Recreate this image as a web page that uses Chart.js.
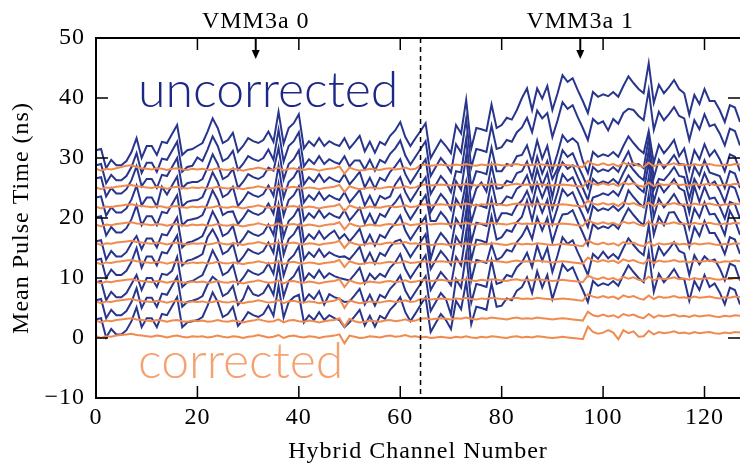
<!DOCTYPE html>
<html lang="en">
<head>
<meta charset="UTF-8">
<title>Mean Pulse Time per Hybrid Channel</title>
<script src="https://cdn.jsdelivr.net/npm/chart.js@4"></script>
<style>
  html, body { margin: 0; padding: 0; background: #fff; }
  #wrap { width: 740px; height: 469px; }
</style>
</head>
<body>
<div id="wrap"><canvas id="pulseChart" width="740" height="469"></canvas></div>
<script>
// hybrid channels 0..127, two VMM3a chips with 64 channels each
const channels = Array.from({ length: 128 }, (_, i) => i);
const xTicks = [0, 20, 40, 60, 80, 100, 120];
const yTicks = [-10, 0, 10, 20, 30, 40, 50];
const chipBoundary = 64;
const chipCentres = [31.5, 95.5];
const chipNames = ['VMM3a 0', 'VMM3a 1'];

// mean pulse time (ns) per channel, one array per delay setting - raw
const uncorr1 = [3.1,3.3,0.1,1.5,0.6,0.6,1.3,2.8,5.1,1.8, 3.3,3.3,1.8,4.0,3.8,5.3,6.8,1.8,2.6,2.8, 3.0,3.5,5.4,7.6,6.0,3.5,4.0,5.2,2.0,3.0, 4.3,3.8,3.5,4.0,5.4,3.7,8.7,3.4,6.0,6.8, 7.2,2.6,3.8,3.0,4.3,3.0,3.8,3.3,3.0,1.8, 2.6,3.6,4.7,2.1,3.7,1.9,3.7,3.2,4.7,5.6, 6.8,4.3,2.8,4.1,5.5,6.8,1.0,2.5,4.0,3.0, 1.5,6.2,4.8,9.4,2.3,5.2,5.0,4.7,9.1,5.2, 5.4,6.6,6.3,7.9,8.5,10.1,7.5,11.1,8.4,10.5, 6.5,9.2,12.3,11.2,11.8,9.8,8.0,6.0,9.5,8.7, 9.1,8.8,9.5,8.7,10.5,12.1,11.0,10.0,9.3,14.3, 7.7,10.7,9.3,10.3,11.5,10.0,9.8,6.2,9.5,8.0, 10.5,8.5,9.1,7.6,5.6,8.4,8.0,5.6];
const uncorr2 = [6.3,6.5,3.3,4.7,3.8,3.8,4.5,6.0,8.3,5.0, 6.7,6.7,5.2,7.4,7.2,8.7,10.2,5.2,6.0,6.2, 6.5,7.0,8.9,10.2,9.5,7.0,7.5,8.7,5.5,6.5, 8.6,7.3,7.0,7.5,8.9,7.2,12.2,6.9,9.5,10.3, 11.8,6.1,7.3,6.5,7.8,5.6,7.3,6.8,6.5,6.0, 6.1,7.1,8.2,5.6,7.2,5.4,7.2,6.7,8.2,9.1, 10.4,7.9,6.4,7.7,9.0,10.3,4.5,6.0,7.5,6.5, 3.9,9.8,8.4,14.0,5.9,9.0,8.8,8.5,12.9,9.0, 9.3,10.5,10.2,11.8,12.6,14.2,11.8,15.4,12.9,15.0, 11.0,13.7,16.8,15.7,16.3,14.3,12.5,10.5,14.0,13.2, 14.4,13.3,14.0,13.2,15.0,16.6,15.5,14.5,13.8,18.8, 12.2,15.2,13.8,14.8,16.0,14.5,14.1,10.5,13.8,12.3, 13.6,12.8,13.1,11.6,9.6,12.4,12.0,9.6];
const uncorr3 = [9.3,9.5,6.3,7.7,6.8,6.8,7.5,9.0,10.5,8.0, 10.0,10.0,8.5,10.7,10.5,11.2,13.5,8.5,9.3,9.5, 10.0,10.5,12.4,14.6,13.0,10.5,11.0,12.2,9.0,10.0, 11.3,10.8,10.5,11.0,12.4,10.7,15.7,10.4,13.0,13.8, 15.3,9.6,10.8,10.0,11.3,10.0,10.8,10.3,10.0,9.8, 9.6,10.6,11.7,9.1,10.7,9.8,10.7,10.2,11.7,12.6, 14.0,11.5,10.0,11.3,12.5,13.8,8.0,9.5,11.0,10.0, 8.8,13.5,12.1,17.7,9.6,13.0,12.8,12.5,15.6,13.0, 13.5,14.7,14.4,16.0,17.0,18.6,16.5,20.1,17.9,20.0, 16.0,18.7,20.6,20.7,21.3,19.3,17.5,15.5,19.0,18.2, 18.6,18.3,19.0,18.2,20.0,21.6,20.5,19.5,18.8,23.8, 17.2,20.2,18.8,20.9,21.0,19.5,18.8,15.2,18.5,17.0, 19.5,17.5,17.5,16.0,14.0,16.8,16.4,14.0];
const uncorr4 = [13.0,13.2,10.0,11.4,10.5,10.5,11.2,12.7,15.0,11.7, 13.6,13.6,12.1,14.3,14.1,15.6,17.1,12.1,12.9,13.1, 13.5,14.0,16.8,18.1,16.5,14.0,14.5,15.7,12.5,13.5, 14.8,14.3,14.0,14.5,15.9,14.2,20.5,13.9,16.5,17.3, 18.8,13.1,14.3,13.5,14.8,13.5,14.3,13.8,13.5,13.6, 13.1,14.1,15.2,12.6,14.2,12.4,14.2,13.7,15.2,16.1, 16.4,15.0,13.5,14.8,16.0,17.3,11.5,13.0,14.5,13.5, 12.2,16.9,15.5,21.1,13.0,16.4,16.2,15.9,20.3,16.4, 16.8,18.0,17.7,19.3,20.2,22.9,19.6,23.2,20.9,23.0, 19.0,21.7,24.8,23.7,24.3,22.3,20.5,18.5,22.0,21.2, 21.6,21.3,22.0,21.2,22.0,24.6,23.5,22.5,21.8,26.8, 20.2,23.2,21.8,22.8,24.0,22.5,21.9,18.3,21.6,20.1, 22.6,20.6,20.7,19.2,17.2,21.2,19.6,17.2];
const uncorr5 = [16.1,16.3,13.1,14.5,13.6,13.6,14.3,15.8,17.0,14.8, 16.6,16.6,15.1,17.3,17.1,18.6,20.1,15.1,15.9,16.1, 16.5,17.0,18.9,21.1,19.5,17.0,17.5,18.7,15.5,16.5, 17.8,17.3,17.0,17.5,18.9,17.2,22.2,16.9,19.5,20.3, 21.8,16.1,17.3,16.5,17.8,16.5,17.3,17.9,16.5,17.3, 16.1,17.1,18.2,15.6,17.2,15.4,17.2,16.7,18.2,19.1, 20.4,17.9,16.4,17.7,19.0,20.3,13.2,16.0,17.5,16.5, 15.2,19.9,18.5,24.1,16.0,19.2,19.0,18.7,23.1,19.2, 20.8,20.8,20.5,22.1,22.9,24.5,22.2,25.8,23.4,25.5, 21.5,24.2,27.3,26.2,26.8,24.8,23.0,21.0,23.4,23.7, 24.1,23.8,24.5,23.7,25.5,27.1,26.0,25.0,24.3,29.3, 22.7,25.7,24.3,25.3,26.5,25.0,24.5,20.9,25.3,22.7, 25.2,23.2,23.4,21.9,19.9,22.7,22.3,19.9];
const uncorr6 = [20.1,20.3,17.1,18.5,17.6,17.6,18.3,19.8,22.1,18.8, 20.3,20.3,18.8,21.0,20.8,22.3,23.8,18.8,19.6,19.8, 20.0,20.5,22.4,24.6,23.0,20.5,21.0,21.1,19.0,20.0, 21.3,20.8,20.5,21.0,22.4,20.7,25.7,20.4,23.0,23.8, 25.3,19.6,20.8,20.0,21.3,20.0,20.8,20.3,20.0,21.3, 19.6,20.6,21.7,19.1,20.7,18.9,20.7,20.2,21.7,22.6, 23.8,21.3,19.8,21.1,22.5,23.8,19.5,19.5,21.0,20.0, 18.5,23.2,21.8,26.0,19.3,22.2,22.0,21.7,26.1,22.2, 22.4,23.6,23.3,24.9,25.5,27.1,24.5,28.1,25.4,27.5, 23.5,27.4,29.3,28.2,28.8,26.8,25.0,23.0,26.5,25.7, 26.1,25.8,26.5,25.7,27.5,29.1,28.0,27.0,26.3,31.3, 24.7,26.5,26.3,27.3,28.5,27.0,26.8,23.2,26.5,25.0, 27.5,25.5,26.1,24.6,22.6,25.4,25.0,22.6];
const uncorr7 = [23.4,23.6,20.4,21.8,20.9,20.9,21.6,23.1,25.4,22.1, 23.4,23.4,21.9,25.2,23.9,25.4,26.9,21.9,22.7,22.9, 23.0,23.5,25.4,27.6,26.0,23.5,24.0,25.2,22.0,23.0, 24.3,23.8,23.5,24.0,25.4,23.7,28.7,23.4,26.0,26.8, 28.3,22.6,23.8,23.0,24.3,23.0,23.8,23.3,23.0,24.3, 22.6,23.6,24.7,22.1,23.7,21.9,23.7,23.2,23.6,25.6, 26.8,24.3,22.8,24.1,25.5,26.8,21.0,22.5,24.0,23.0, 21.4,26.1,24.7,30.3,22.2,24.9,25.9,24.4,28.8,24.9, 25.0,26.2,25.9,27.5,27.8,29.4,26.6,30.2,27.4,29.5, 26.5,28.2,31.3,30.2,30.8,28.8,27.0,25.0,28.5,27.7, 28.1,27.8,28.5,27.7,29.5,31.1,28.8,29.0,28.3,33.3, 26.7,29.7,28.3,29.3,30.5,29.0,28.9,25.3,28.6,27.1, 29.6,27.6,27.3,27.0,25.0,27.8,27.4,25.0];
const uncorr8 = [26.6,26.8,23.6,25.0,24.1,24.1,24.8,26.3,28.6,25.3, 26.5,26.5,25.0,27.2,27.0,28.5,30.0,25.0,25.8,26.0, 26.0,26.5,28.4,30.6,29.0,26.5,27.0,28.2,25.0,26.0, 27.3,26.8,26.5,27.0,28.4,27.9,31.7,26.4,29.0,29.8, 31.3,25.6,26.8,26.0,27.3,26.0,26.8,26.3,26.0,27.3, 25.6,26.6,27.7,25.1,26.7,24.9,26.7,26.2,27.7,28.6, 29.8,27.3,25.8,27.1,28.5,29.8,24.0,25.5,27.0,26.0, 24.3,27.8,27.6,33.2,25.1,27.8,27.6,27.3,31.7,27.8, 27.8,29.0,28.7,30.3,30.5,32.1,29.3,32.9,29.9,32.0, 28.0,30.7,33.8,32.7,33.3,32.5,29.5,27.5,31.0,30.2, 30.6,30.3,31.0,30.2,32.0,33.6,32.5,31.5,30.8,34.5, 29.2,32.2,30.8,31.8,33.0,30.3,31.6,28.0,31.3,29.8, 32.3,30.3,31.3,29.8,27.8,30.6,30.2,27.8];
const uncorr9 = [28.8,29.0,25.8,27.2,26.3,26.3,27.0,28.5,30.8,27.5, 29.2,29.2,27.7,29.9,29.7,31.2,32.7,27.7,28.5,28.7, 30.1,29.5,31.4,33.6,32.0,29.5,30.0,31.2,28.0,29.0, 30.3,29.8,29.5,30.0,31.4,29.7,34.7,29.4,32.0,32.8, 34.3,28.6,29.8,29.0,30.3,29.0,29.8,29.3,29.0,30.3, 28.6,29.6,29.6,28.1,29.7,27.9,29.7,29.2,30.7,31.6, 32.9,30.4,28.9,30.2,31.5,32.8,27.0,28.5,30.0,29.0, 27.6,32.3,30.9,36.5,28.4,31.5,31.3,31.0,35.4,31.5, 31.8,33.0,32.7,34.3,35.1,36.7,34.3,37.9,36.6,37.5, 33.5,36.2,39.3,38.2,38.8,36.8,35.0,33.0,36.5,35.7, 36.1,34.6,36.5,35.7,37.5,38.2,38.0,37.0,36.3,41.3, 34.7,37.7,36.3,37.3,38.5,37.0,36.6,33.0,36.3,34.8, 37.3,35.3,35.6,34.1,32.1,34.9,34.5,32.1];
const uncorr10 = [31.3,31.5,28.3,29.7,28.8,28.8,29.5,31.0,33.3,30.0, 32.0,32.0,30.5,32.7,32.5,34.0,35.5,30.5,31.3,31.5, 32.0,32.5,34.4,36.6,35.0,32.5,33.0,34.2,31.0,32.0, 33.3,32.8,32.5,33.0,34.4,32.7,37.7,32.4,35.0,35.8, 37.3,31.6,32.8,32.0,33.3,32.0,32.8,32.3,32.0,33.3, 31.6,32.6,33.7,31.1,32.7,30.9,32.7,32.2,33.7,34.6, 36.0,33.5,32.0,33.3,34.5,35.8,30.0,31.5,33.0,32.0, 30.8,35.5,34.1,39.7,31.6,35.0,34.8,34.5,38.9,35.0, 35.5,36.7,36.4,38.0,40.0,41.6,38.0,41.6,39.9,42.0, 38.0,40.7,43.8,42.7,43.3,41.3,39.5,37.5,41.0,40.2, 40.6,40.3,41.0,40.2,42.0,43.6,42.5,41.5,40.8,45.8, 39.2,42.2,40.8,41.8,43.0,41.5,40.8,37.2,40.5,39.0, 41.5,39.5,39.5,38.0,36.0,38.8,38.4,36.0];

// same settings after the per-channel time correction
const corr1 = [0.3,0.0,0.3,0.2,0.4,0.5,0.6,0.7,0.5,0.4, 0.3,0.2,0.4,0.3,0.1,0.3,0.4,0.2,0.1,0.3, 0.2,0.3,0.1,0.2,0.4,0.2,0.1,0.3,0.2,0.0, 0.2,0.3,0.5,0.3,0.1,0.2,0.5,0.0,0.3,0.4, 0.2,0.1,0.3,0.2,0.0,0.2,0.3,0.4,0.6,-0.9, 0.4,0.2,0.0,0.1,0.3,0.2,0.1,0.3,0.4,0.2, 0.3,0.5,0.2,0.3,0.1,0.2,0.0,0.1,0.2,0.1, 0.0,0.2,0.1,0.3,0.1,0.0,0.2,0.1,0.3,0.2, 0.1,0.0,0.2,0.3,0.1,0.2,0.1,0.3,0.2,0.1, 0.0,0.1,0.2,0.1,0.0,-0.1,-0.2,1.9,1.0,0.7, 0.9,1.3,0.9,-0.2,1.3,0.8,1.1,0.2,0.3,1.2, 0.6,1.0,0.8,0.9,1.1,0.8,0.9,0.7,1.0,0.8, 0.9,1.0,0.8,0.7,0.9,0.8,1.0,0.9];
const corr2 = [2.9,2.6,2.9,2.8,3.0,3.1,3.2,3.3,3.1,3.0, 2.9,2.8,3.0,2.9,2.7,2.9,3.0,2.8,2.7,2.9, 2.8,2.9,2.7,2.8,3.0,2.8,2.7,2.9,2.8,2.6, 2.8,2.9,3.1,2.9,2.7,2.8,3.1,2.6,2.9,3.0, 2.8,2.7,2.9,2.8,2.6,2.8,2.9,3.0,3.3,1.9, 3.2,2.8,2.6,2.7,2.9,2.8,2.7,2.9,3.0,2.8, 2.9,3.1,2.8,2.9,3.2,3.3,3.1,3.2,3.3,3.2, 3.1,3.3,3.2,3.4,3.2,3.1,3.3,3.2,3.4,3.3, 3.2,3.1,3.3,3.4,3.2,3.3,3.2,3.4,3.3,3.2, 3.1,3.2,3.3,3.2,3.1,3.0,2.9,4.4,3.8,3.6, 3.9,3.6,3.8,3.4,4.0,3.7,3.9,3.5,3.3,4.0, 3.4,3.8,3.6,3.7,3.9,3.6,3.7,3.5,3.8,3.6, 3.7,3.8,3.6,3.5,3.7,3.6,3.8,3.7];
const corr3 = [6.1,5.8,6.1,6.0,6.2,6.3,6.4,6.5,6.3,6.2, 6.1,6.0,6.2,6.1,5.9,6.1,6.2,6.0,5.9,6.1, 6.0,6.1,5.9,6.0,6.2,6.0,5.9,6.1,6.0,5.8, 6.0,6.1,6.3,6.1,5.9,6.0,6.3,5.8,6.1,6.2, 6.0,5.9,6.1,6.0,5.8,6.0,6.1,6.2,6.6,5.0, 6.3,6.0,5.8,5.9,6.1,6.0,5.9,6.1,6.2,6.0, 6.1,6.3,6.0,6.1,6.5,6.6,6.4,6.5,6.6,6.5, 6.4,6.6,6.5,6.7,6.5,6.4,6.6,6.5,6.7,6.6, 6.5,6.4,6.6,6.7,6.5,6.6,6.5,6.7,6.6,6.5, 6.4,6.5,6.6,6.5,6.4,6.3,6.2,7.3,6.9,6.7, 7.0,6.7,6.9,6.5,7.1,6.8,7.0,6.6,6.4,7.1, 6.5,6.9,6.7,6.8,7.0,6.7,6.8,6.6,6.9,6.7, 6.8,6.9,6.7,6.6,6.8,6.7,6.9,6.8];
const corr4 = [9.4,9.1,9.4,9.3,9.5,9.6,9.7,9.8,9.6,9.5, 9.4,9.3,9.5,9.4,9.2,9.4,9.5,9.3,9.2,9.4, 9.3,9.4,9.2,9.3,9.5,9.3,9.2,9.4,9.3,9.1, 9.3,9.4,9.6,9.4,9.2,9.3,9.6,9.1,9.4,9.5, 9.3,9.2,9.4,9.3,9.1,9.3,9.4,9.5,9.8,8.5, 9.6,9.3,9.1,9.2,9.4,9.3,9.2,9.4,9.5,9.3, 9.4,9.6,9.3,9.4,9.6,9.7,9.5,9.6,9.7,9.6, 9.5,9.7,9.6,9.8,9.6,9.5,9.7,9.6,9.8,9.7, 9.6,9.5,9.7,9.8,9.6,9.7,9.6,9.8,9.7,9.6, 9.5,9.6,9.7,9.6,9.5,9.4,9.3,10.4,10.0,9.8, 10.1,9.8,10.0,9.6,10.2,9.9,10.1,9.7,9.5,10.2, 9.6,10.0,9.8,9.9,10.1,9.8,9.9,9.7,10.0,9.8, 9.9,10.0,9.8,9.7,9.9,9.8,10.0,9.9];
const corr5 = [12.6,12.3,12.6,12.5,12.7,12.8,12.9,13.0,12.8,12.7, 12.6,12.5,12.7,12.6,12.4,12.6,12.7,12.5,12.4,12.6, 12.5,12.6,12.4,12.5,12.7,12.5,12.4,12.6,12.5,12.3, 12.5,12.6,12.8,12.6,12.4,12.5,12.8,12.3,12.6,12.7, 12.5,12.4,12.6,12.5,12.3,12.5,12.6,12.7,13.0,11.8, 12.8,12.5,12.3,12.4,12.6,12.5,12.4,12.6,12.7,12.5, 12.6,12.8,12.5,12.6,12.7,12.8,12.6,12.7,12.8,12.7, 12.6,12.8,12.7,12.9,12.7,12.6,12.8,12.7,12.9,12.8, 12.7,12.6,12.8,12.9,12.7,12.8,12.7,12.9,12.8,12.7, 12.6,12.7,12.8,12.7,12.6,12.5,12.4,13.4,12.9,12.7, 13.0,12.7,12.9,12.5,13.1,12.8,13.0,12.6,12.4,13.1, 12.5,12.9,12.7,12.8,13.0,12.7,12.8,12.6,12.9,12.7, 12.8,12.9,12.7,12.6,12.8,12.7,12.9,12.8];
const corr6 = [15.8,15.5,15.8,15.7,15.9,16.0,16.1,16.2,16.0,15.9, 15.8,15.7,15.9,15.8,15.6,15.8,15.9,15.7,15.6,15.8, 15.7,15.8,15.6,15.7,15.9,15.7,15.6,15.8,15.7,15.5, 15.7,15.8,16.0,15.8,15.6,15.7,16.0,15.5,15.8,15.9, 15.7,15.6,15.8,15.7,15.5,15.7,15.8,15.9,16.2,15.0, 16.0,15.7,15.5,15.6,15.8,15.7,15.6,15.8,15.9,15.7, 15.8,16.0,15.7,15.8,15.6,15.7,15.5,15.6,15.7,15.6, 15.5,15.7,15.6,15.8,15.6,15.5,15.7,15.6,15.8,15.7, 15.6,15.5,15.7,15.8,15.6,15.7,15.6,15.8,15.7,15.6, 15.5,15.6,15.7,15.6,15.5,15.4,15.3,16.3,15.8,15.6, 15.9,15.6,15.8,15.4,16.0,15.7,15.9,15.5,15.3,16.0, 15.4,15.8,15.6,15.7,15.9,15.6,15.7,15.5,15.8,15.6, 15.7,15.8,15.6,15.5,15.7,15.6,15.8,15.7];
const corr7 = [18.9,18.6,18.9,18.8,19.0,19.1,19.2,19.3,19.1,19.0, 18.9,18.8,19.0,18.9,18.7,18.9,19.0,18.8,18.7,18.9, 18.8,18.9,18.7,18.8,19.0,18.8,18.7,18.9,18.8,18.6, 18.8,18.9,19.1,18.9,18.7,18.8,19.1,18.6,18.9,19.0, 18.8,18.7,18.9,18.8,18.6,18.8,18.9,19.0,19.3,18.1, 19.1,18.8,18.6,18.7,18.9,18.8,18.7,18.9,19.0,18.8, 18.9,19.1,18.8,18.9,19.0,19.1,18.9,19.0,19.1,19.0, 18.9,19.1,19.0,19.2,19.0,18.9,19.1,19.0,19.2,19.1, 19.0,18.9,19.1,19.2,19.0,19.1,19.0,19.2,19.1,19.0, 18.9,19.0,19.1,19.0,18.9,18.8,18.7,19.7,19.2,19.0, 19.3,19.0,19.2,18.8,19.4,19.1,19.3,18.9,18.7,19.4, 18.8,19.2,19.0,19.1,19.3,19.0,19.1,18.9,19.2,19.0, 19.1,19.2,19.0,18.9,19.1,19.0,19.2,19.1];
const corr8 = [21.9,21.6,21.9,21.8,22.0,22.1,22.2,22.3,22.1,22.0, 21.9,21.8,22.0,21.9,21.7,21.9,22.0,21.8,21.7,21.9, 21.8,21.9,21.7,21.8,22.0,21.8,21.7,21.9,21.8,21.6, 21.8,21.9,22.1,21.9,21.7,21.8,22.1,21.6,21.9,22.0, 21.8,21.7,21.9,21.8,21.6,21.8,21.9,22.0,22.3,21.1, 22.1,21.8,21.6,21.7,21.9,21.8,21.7,21.9,22.0,21.8, 21.9,22.1,21.8,21.9,22.2,22.3,22.1,22.2,22.3,22.2, 22.1,22.3,22.2,22.4,22.2,22.1,22.3,22.2,22.4,22.3, 22.2,22.1,22.3,22.4,22.2,22.3,22.2,22.4,22.3,22.2, 22.1,22.2,22.3,22.2,22.1,22.0,21.9,22.9,22.4,22.2, 22.5,22.2,22.4,22.0,22.6,22.3,22.5,22.1,21.9,22.6, 22.0,22.4,22.2,22.3,22.5,22.2,22.3,22.1,22.4,22.2, 22.3,22.4,22.2,22.1,22.3,22.2,22.4,22.3];
const corr9 = [25.1,24.8,25.1,25.0,25.2,25.3,25.4,25.5,25.3,25.2, 25.1,25.0,25.2,25.1,24.9,25.1,25.2,25.0,24.9,25.1, 25.0,25.1,24.9,25.0,25.2,25.0,24.9,25.1,25.0,24.8, 25.0,25.1,25.3,25.1,24.9,25.0,25.3,24.8,25.1,25.2, 25.0,24.9,25.1,25.0,24.8,25.0,25.1,25.2,25.5,24.3, 25.3,25.0,24.8,24.9,25.1,25.0,24.9,25.1,25.2,25.0, 25.1,25.3,25.0,25.1,25.5,25.6,25.4,25.5,25.6,25.5, 25.4,25.6,25.5,25.7,25.5,25.4,25.6,25.5,25.7,25.6, 25.5,25.4,25.6,25.7,25.5,25.6,25.5,25.7,25.6,25.5, 25.4,25.5,25.6,25.5,25.4,25.3,25.2,26.2,25.7,25.5, 25.8,25.5,25.7,25.3,25.9,25.6,25.8,25.4,25.2,25.9, 25.3,25.7,25.5,25.6,25.8,25.5,25.6,25.4,25.7,25.5, 25.6,25.7,25.5,25.4,25.6,25.5,25.7,25.6];
const corr10 = [28.2,27.9,28.2,28.1,28.3,28.5,28.7,28.8,28.5,28.3, 28.2,28.1,28.3,28.2,28.0,28.2,28.3,28.1,28.0,28.2, 28.1,28.2,28.0,28.1,28.3,28.1,28.0,28.2,28.1,27.9, 28.1,28.2,28.4,28.2,28.0,28.1,28.4,27.9,28.2,28.3, 28.1,28.0,28.2,28.1,27.9,28.1,28.2,28.3,28.6,27.4, 28.4,28.1,27.9,28.0,28.2,28.1,28.0,28.2,28.3,28.1, 28.2,28.4,28.1,28.2,28.8,28.9,28.7,28.8,28.9,28.8, 28.7,28.9,28.8,29.0,28.8,28.7,28.9,28.8,29.0,28.9, 28.8,28.7,28.9,29.0,28.8,28.9,28.8,29.0,28.9,28.8, 28.7,28.8,28.9,28.8,28.7,28.6,28.5,29.5,29.0,28.8, 29.1,28.8,29.0,28.6,29.2,28.9,29.1,28.7,28.5,29.2, 28.6,29.0,28.8,28.9,29.1,28.8,28.9,28.7,29.0,28.8, 28.9,29.0,28.8,28.7,28.9,28.8,29.0,28.9];

const uncorrected = [uncorr1, uncorr2, uncorr3, uncorr4, uncorr5, uncorr6, uncorr7, uncorr8, uncorr9, uncorr10];
const corrected = [corr1, corr2, corr3, corr4, corr5, corr6, corr7, corr8, corr9, corr10];

const BLUE = '#28358c';
const BLUE_TEXT = '#1c2787';
const ORANGE = '#f08a4e';
const ORANGE_TEXT = '#f5a170';
const SERIF = '"Liberation Serif", "DejaVu Serif", serif';
const SERIF_SIZE = 24;
const SPACING = '1px';

const toPoints = ys => ys.map((y, i) => ({ x: channels[i], y: y }));

// index 0 is painted last, so the corrected curves go first
const datasets = [];
corrected.forEach(ys => datasets.push({ data: toPoints(ys), borderColor: ORANGE, borderWidth: 2 }));
uncorrected.forEach(ys => datasets.push({ data: toPoints(ys), borderColor: BLUE, borderWidth: 2 }));

function seg(ctx, x1, y1, x2, y2) {
  ctx.beginPath();
  ctx.moveTo(x1, y1);
  ctx.lineTo(x2, y2);
  ctx.stroke();
}

// a little tracking on the serif text so it spreads like a book face
const tracking = {
  id: 'tracking',
  beforeUpdate(chart) { chart.ctx.letterSpacing = SPACING; },
  beforeDraw(chart) { chart.ctx.letterSpacing = SPACING; }
};

// box with inward ticks, chip separator, chip arrows and the two labels
const decorations = {
  id: 'decorations',
  afterDatasetsDraw(chart) {
    const { ctx, chartArea: a, scales: { x, y } } = chart;
    ctx.save();
    ctx.strokeStyle = '#000';
    ctx.fillStyle = '#000';

    ctx.lineWidth = 1.5;
    ctx.setLineDash([5, 4]);
    const xb = x.getPixelForValue(chipBoundary);
    seg(ctx, xb, a.top, xb, a.bottom);
    ctx.setLineDash([]);

    ctx.lineWidth = 2;
    ctx.beginPath();
    ctx.moveTo(a.right + 2, a.top);
    ctx.lineTo(a.left, a.top);
    ctx.lineTo(a.left, a.bottom);
    ctx.lineTo(a.right + 2, a.bottom);
    ctx.stroke();

    const tl = 12;
    ctx.lineWidth = 1.5;
    xTicks.forEach(v => {
      const px = x.getPixelForValue(v);
      seg(ctx, px, a.bottom, px, a.bottom - tl);
      seg(ctx, px, a.top, px, a.top + tl);
    });
    yTicks.forEach(v => {
      const py = y.getPixelForValue(v);
      seg(ctx, a.left, py, a.left + tl, py);
      seg(ctx, a.right, py, a.right - tl, py);
    });

    ctx.font = SERIF_SIZE + 'px ' + SERIF;
    ctx.letterSpacing = SPACING;
    ctx.textAlign = 'center';
    ctx.textBaseline = 'alphabetic';
    chipCentres.forEach((c, i) => {
      const px = x.getPixelForValue(c);
      ctx.lineWidth = 2;
      seg(ctx, px, a.top, px, a.top + 13);
      ctx.beginPath();
      ctx.moveTo(px - 4, a.top + 12);
      ctx.lineTo(px + 4, a.top + 12);
      ctx.lineTo(px, a.top + 21);
      ctx.closePath();
      ctx.fill();
      ctx.fillText(chipNames[i], px, a.top - 10);
    });

    ctx.letterSpacing = '0px';
    ctx.textAlign = 'left';
    ctx.font = '300 50px Lato, "Open Sans", sans-serif';
    ctx.fillStyle = BLUE_TEXT;
    ctx.fillText('uncorrected', x.getPixelForValue(8.3), y.getPixelForValue(38.5));
    ctx.fillStyle = ORANGE_TEXT;
    ctx.fillText('corrected', x.getPixelForValue(8.3), y.getPixelForValue(-6.7));
    ctx.restore();
  }
};

new Chart(document.getElementById('pulseChart'), {
  type: 'line',
  data: { datasets: datasets },
  options: {
    responsive: false,
    animation: false,
    devicePixelRatio: 1,
    layout: { padding: { top: 38, right: 0, left: 0, bottom: 0 } },
    elements: { point: { radius: 0 }, line: { tension: 0 } },
    plugins: { legend: { display: false }, tooltip: { enabled: false } },
    scales: {
      x: {
        type: 'linear',
        min: 0,
        max: 127,
        grid: { display: false, drawTicks: false },
        border: { display: false },
        ticks: {
          stepSize: 20,
          includeBounds: false,
          maxRotation: 0,
          padding: 5,
          color: '#000',
          font: { family: SERIF, size: SERIF_SIZE }
        },
        title: {
          display: true,
          text: 'Hybrid Channel Number',
          color: '#000',
          font: { family: SERIF, size: SERIF_SIZE },
          padding: { top: 0, bottom: 3 }
        },
        afterFit(scale) { scale.height = 71; }
      },
      y: {
        min: -10,
        max: 50,
        grid: { display: false, drawTicks: false },
        border: { display: false },
        ticks: {
          stepSize: 10,
          padding: 11,
          color: '#000',
          font: { family: SERIF, size: SERIF_SIZE },
          callback: v => String(v).replace('-', '\u2212')
        },
        title: {
          display: true,
          text: 'Mean Pulse Time (ns)',
          color: '#000',
          font: { family: SERIF, size: SERIF_SIZE },
          padding: { top: 7, bottom: 0 }
        },
        afterFit(scale) { scale.width = 96; }
      }
    }
  },
  plugins: [tracking, decorations]
});
</script>
</body>
</html>
